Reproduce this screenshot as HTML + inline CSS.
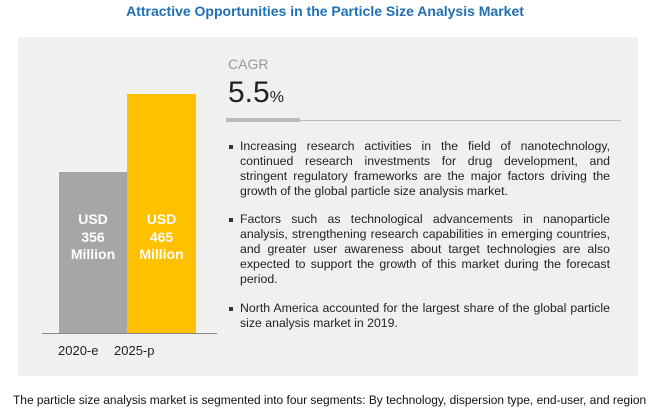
<!DOCTYPE html>
<html><head><meta charset="utf-8"><style>
*{margin:0;padding:0;box-sizing:border-box}
body{width:650px;height:416px;background:#fff;font-family:"Liberation Sans",sans-serif;position:relative;overflow:hidden}
.a{position:absolute}
.title{left:0;width:650px;top:3px;text-align:center;color:#1f6fb5;font-weight:bold;font-size:14px}
.panel{left:18px;top:37px;width:620px;height:339px;background:#f0f0f0}
.bar{position:absolute;color:#fff;font-weight:bold;font-size:14px;text-align:center;line-height:17.5px}
.p{position:absolute;left:240px;width:370px;font-size:12.3px;line-height:15px;color:#222;text-align:justify}
.p:before{content:"";position:absolute;left:-11px;top:6px;width:4px;height:4px;background:#333}
</style></head><body>
<div class="a title">Attractive Opportunities in the Particle Size Analysis Market</div>
<div class="a panel"></div>
<div class="bar" style="left:59px;top:172px;width:68px;height:162px;background:#a6a6a6;padding-top:39px">USD<br>356<br>Million</div>
<div class="bar" style="left:127px;top:94px;width:69px;height:240px;background:#ffc000;padding-top:117px">USD<br>465<br>Million</div>
<div class="a" style="left:42px;top:333px;width:175px;height:1px;background:#888"></div>
<div class="a" style="left:58px;top:343px;font-size:13px;color:#222">2020-e</div>
<div class="a" style="left:114px;top:343px;font-size:13px;color:#222">2025-p</div>
<div class="a" style="left:228px;top:56px;font-size:14px;color:#999">CAGR</div>
<div class="a" style="left:228px;top:76px;font-size:30px;color:#222">5.5<span style="font-size:16px">%</span></div>
<div class="a" style="left:226px;top:120px;width:395px;height:1px;background:#bbb"></div>
<div class="a" style="left:226px;top:118px;width:74px;height:4px;background:#bbb"></div>
<div class="p" style="top:139px">Increasing research activities in the field of nanotechnology, continued research investments for drug development, and stringent regulatory frameworks are the major factors driving the growth of the global particle size analysis market.</div>
<div class="p" style="top:212px">Factors such as technological advancements in nanoparticle analysis, strengthening research capabilities in emerging countries, and greater user awareness about target technologies are also expected to support the growth of this market during the forecast period.</div>
<div class="p" style="top:301px">North America accounted for the largest share of the global particle size analysis market in 2019.</div>
<div class="a" style="left:13px;top:393px;font-size:12.2px;color:#111;white-space:nowrap;transform:scaleX(0.98);transform-origin:0 0">The particle size analysis market is segmented into four segments: By technology, dispersion type, end-user, and region</div>
</body></html>
